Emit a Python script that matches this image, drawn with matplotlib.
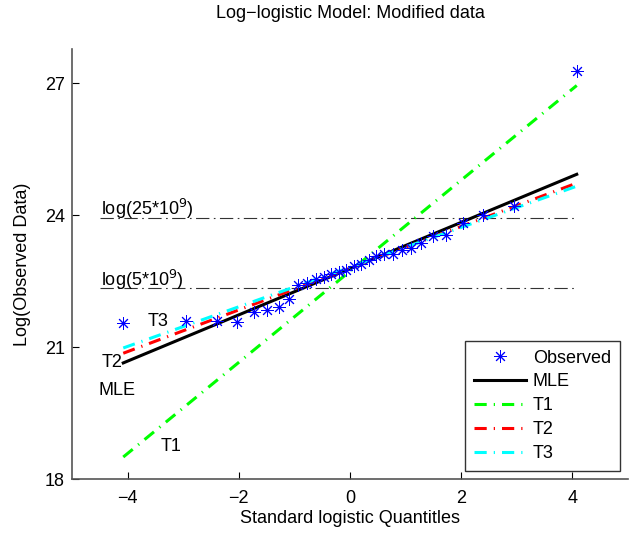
import matplotlib
matplotlib.use("Agg")
import matplotlib.pyplot as plt

plt.rcParams['font.family'] = ['Liberation Sans', 'DejaVu Sans']

# ---- data ----
x_quant = [-4.078, -2.944, -2.398, -2.025, -1.735, -1.494, -1.285, -1.099, -0.928, -0.769,
           -0.619, -0.475, -0.336, -0.201, -0.067, 0.067, 0.201, 0.336, 0.475, 0.619,
           0.769, 0.928, 1.099, 1.285, 1.494, 1.735, 2.025, 2.398, 2.944, 4.078]
y_observed = [21.55, 21.60, 21.60, 21.57, 21.80, 21.84, 21.91, 22.09, 22.41, 22.45,
              22.55, 22.59, 22.66, 22.70, 22.76, 22.84, 22.90, 22.98, 23.07, 23.11,
              23.11, 23.20, 23.25, 23.36, 23.52, 23.55, 23.82, 24.00, 24.20, 27.27]

x_fit = [-4.078, 4.078]
y_mle = [20.64, 24.93]
y_t1 = [18.50, 26.95]
y_t2 = [20.86, 24.73]
y_t3 = [20.98, 24.66]

ref_x = [-4.5, 4.078]
ref_levels = [23.942, 22.333]   # log(25e9), log(5e9)
ref_labels = ['log(25*10$^9$)', 'log(5*10$^9$)']

xticks = [-4, -2, 0, 2, 4]
yticks = [18, 21, 24, 27]

FS = 13

# ---- figure ----
fig = plt.figure(figsize=(6.35, 5.35), dpi=100)
ax = fig.add_axes([72/635, 56/535, 556/635, 430/535])

dd = (4, 2.3, 0.4, 2.3)
ax.plot(x_quant, y_observed, linestyle='none', marker=(8, 2, 0), markersize=9,
        markeredgewidth=0.7, color='#0000ff', label='Observed', zorder=5)
ax.plot(x_fit, y_mle, color='k', lw=2.2, label='MLE', zorder=3)
ax.plot(x_fit, y_t1, color='#00ff00', lw=2.2, dashes=dd, label='T1', zorder=3)
ax.plot(x_fit, y_t2, color='#ff0000', lw=2.2, dashes=dd, label='T2', zorder=3)
ax.plot(x_fit, y_t3, color='#00ffff', lw=2.2, dashes=dd, label='T3', zorder=3)

for lev, lab in zip(ref_levels, ref_labels):
    ax.plot(ref_x, [lev, lev], color='#333333', lw=0.8, dashes=(12, 4, 1.5, 4), zorder=2)
    ax.text(-4.47, lev + 0.2, lab, fontsize=FS, ha='left', va='center')

ax.text(-3.64, 21.59, 'T3', fontsize=FS, ha='left', va='center')
ax.text(-4.47, 20.64, 'T2', fontsize=FS, ha='left', va='center')
ax.text(-4.52, 20.02, 'MLE', fontsize=FS, ha='left', va='center')
ax.text(-3.41, 18.73, 'T1', fontsize=FS, ha='left', va='center')

ax.set_xlim(-5, 5)
ax.set_ylim(18, 27.78)
ax.set_xticks(xticks)
ax.set_xticklabels(['\u2212' + str(-t) if t < 0 else str(t) for t in xticks])
ax.set_yticks(yticks)
ax.tick_params(direction='in', length=5, width=0.8, labelsize=FS, colors='k')
ax.tick_params(axis='x', pad=8)
ax.tick_params(axis='y', pad=5)
for s in ['top', 'right']:
    ax.spines[s].set_visible(False)
for s in ['left', 'bottom']:
    ax.spines[s].set_color('#555555')
    ax.spines[s].set_linewidth(1.2)

ax.set_title('Log\u2212logistic Model: Modified data', fontsize=FS, pad=22)
ax.set_xlabel('Standard logistic Quantitles', fontsize=FS, labelpad=2)
ax.set_ylabel('Log(Observed Data)', fontsize=FS, labelpad=10)

leg = ax.legend(loc='lower right', bbox_to_anchor=(0.9856, 0.0186), borderaxespad=0,
                fontsize=FS, frameon=True, fancybox=False, handlelength=2.85,
                handletextpad=0.4, labelspacing=0.38, borderpad=0.5)
leg.get_frame().set_edgecolor('k')
leg.get_frame().set_linewidth(1.0)

fig.savefig('out.png', dpi=100)
